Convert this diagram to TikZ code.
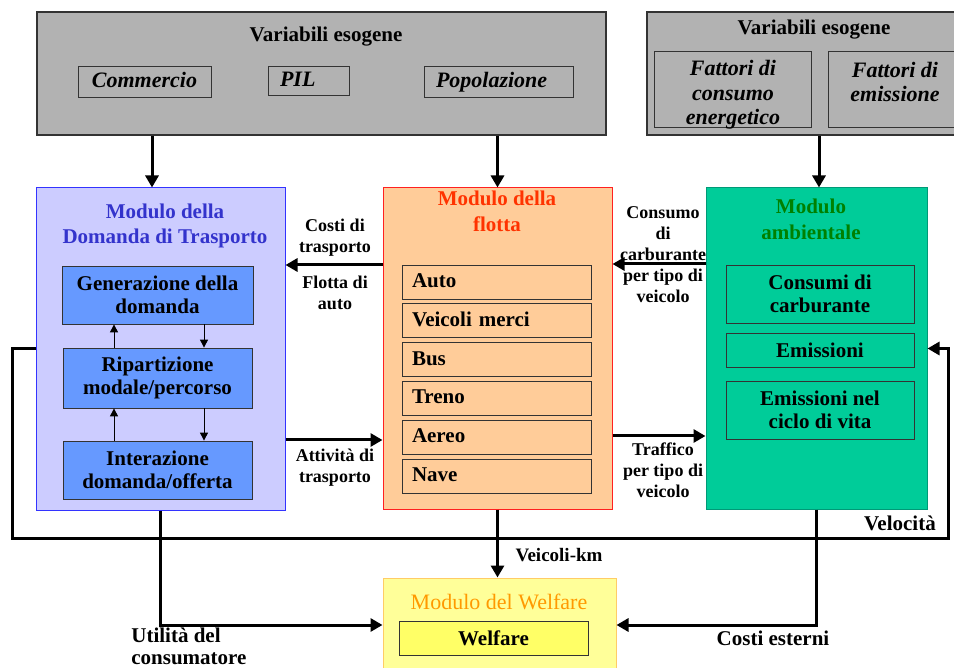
\documentclass[tikz,border=0pt]{standalone}
\usepackage{fontspec}
\setmainfont{Liberation Serif}
\usetikzlibrary{arrows.meta, positioning}
\definecolor{grigio}{HTML}{B2B2B2}
\definecolor{domfill}{HTML}{CCCCFF}
\definecolor{domborder}{HTML}{3333FF}
\definecolor{domsub}{HTML}{6699FF}
\definecolor{domtitle}{HTML}{3333CC}
\definecolor{flofill}{HTML}{FFCC99}
\definecolor{floborder}{HTML}{FF2020}
\definecolor{flotitle}{HTML}{FF3300}
\definecolor{ambfill}{HTML}{00CC99}
\definecolor{ambborder}{HTML}{009977}
\definecolor{ambtitle}{HTML}{008000}
\definecolor{welfill}{HTML}{FFFF99}
\definecolor{welborder}{HTML}{FFCC66}
\definecolor{welsub}{HTML}{FFFF66}
\definecolor{weltitle}{HTML}{FF9900}
\tikzset{
    esobox/.style={rectangle, draw=black!80, fill=grigio, inner sep=0pt, line width=0.6pt},
    modbox/.style={rectangle, draw, inner sep=0pt, line width=0.5pt},
    varbox/.style={rectangle, draw=black!80, fill=grigio, inner sep=0pt, align=center, font=\fontsize{11}{12.25}\selectfont\bfseries\itshape},
    vartext/.style={align=center, inner sep=0pt, font=\fontsize{11}{12.25}\selectfont\bfseries\itshape},
    subbox/.style={rectangle, draw=black!80, inner sep=2pt, align=center, font=\fontsize{10.5}{11.5}\selectfont\bfseries},
    vehbox/.style={rectangle, draw=black!80, fill=flofill, minimum height=17pt, text width=84.5pt, text height=7.5pt, text depth=2pt, inner xsep=5pt, inner ysep=0pt, align=left, font=\fontsize{10.5}{11.5}\selectfont\bfseries},
    modtitle/.style={align=center, inner sep=0pt, font=\fontsize{10.5}{12.75}\selectfont\bfseries},
    lbl/.style={align=center, inner sep=1pt, font=\fontsize{9}{10.5}\selectfont\bfseries},
    lbl_big/.style={align=center, inner sep=1pt, font=\fontsize{10.5}{12.5}\selectfont\bfseries},
    arrow/.style={-{Triangle[length=6pt, width=6.5pt]}, line width=1.5pt},
    thin_arrow/.style={-{Triangle[length=4pt, width=4pt]}, line width=0.5pt}
}
\begin{document}
\begin{tikzpicture}[x=0.5pt, y=-0.5pt]
    \useasboundingbox (0,0) rectangle (954,668);

    % Variabili esogene
    \node (eso1) [esobox, minimum width=284.5pt, minimum height=61.5pt] at (321.5,73.5) {};
    \node (eso1_t) [modtitle] at (326,37) {Variabili esogene};
    \node (comm) [varbox, minimum width=66.5pt, minimum height=15.5pt, text height=7.5pt, text depth=1.5pt] at (144.5,81.5) {Commercio};
    \node (pil) [varbox, text width=28.5pt, align=left, minimum height=14.5pt, text height=7.5pt, text depth=1.5pt, inner xsep=6pt] at (308.5,80.5) {PIL};
    \node (pop) [varbox, text width=62.5pt, align=left, minimum height=15.5pt, text height=7.5pt, text depth=1.5pt, inner xsep=6pt] at (498.5,81.5) {Popolazione};

    \node (eso2) [esobox, minimum width=154.5pt, minimum height=61.5pt] at (801.5,73.5) {};
    \node (eso2_t) [modtitle] at (814,30) {Variabili esogene};
    \node (fce) [varbox, minimum width=78.5pt, minimum height=38pt] at (732.5,89) {};
    \node (fce_t) [vartext] at (733,95) {Fattori di\\consumo\\energetico};
    \node (fem) [varbox, minimum width=67pt, minimum height=38pt] at (895,89) {};
    \node (fem_t) [vartext] at (895,82) {Fattori di\\emissione};

    % Modulo della domanda
    \node (dom) [modbox, draw=domborder, fill=domfill, minimum width=124.5pt, minimum height=161pt] at (160.5,349) {};
    \node (dom_t) [modtitle, text=domtitle] at (165,226) {Modulo della\\Domanda di Trasporto};
    \node (gen) [subbox, fill=domsub, minimum width=95.5pt, minimum height=29pt] at (157.5,295) {Generazione della\\domanda};
    \node (rip) [subbox, fill=domsub, minimum width=94.5pt, minimum height=30pt] at (157.5,378) {Ripartizione\\modale/percorso};
    \node (inter) [subbox, fill=domsub, minimum width=94.5pt, minimum height=29pt] at (157.5,470) {Interazione\\domanda/offerta};
    \draw [thin_arrow] ([xshift=-21.75pt]rip.north) -- ([xshift=-21.75pt]gen.south);
    \draw [thin_arrow] ([xshift=23.25pt]gen.south) -- ([xshift=23.25pt]rip.north);
    \draw [thin_arrow] ([xshift=-21.75pt]inter.north) -- ([xshift=-21.75pt]rip.south);
    \draw [thin_arrow] ([xshift=23.25pt]rip.south) -- ([xshift=23.25pt]inter.north);

    % Modulo della flotta
    \node (flo) [modbox, draw=floborder, fill=flofill, minimum width=114.5pt, minimum height=160.5pt] at (497.5,348.5) {};
    \node (flo_t) [modtitle, text=flotitle] at (497,211.5) {Modulo della\\flotta};
    \node (auto) [vehbox] at (496.5,282) {Auto};
    \node (merci) [vehbox, below=2pt of auto] {Veicoli merci};
    \node (bus) [vehbox, below=2pt of merci] {Bus};
    \node (treno) [vehbox, below=2pt of bus] {Treno};
    \node (aereo) [vehbox, below=2pt of treno] {Aereo};
    \node (nave) [vehbox, below=2pt of aereo] {Nave};

    % Modulo ambientale
    \node (amb) [modbox, draw=ambborder, fill=ambfill, minimum width=110.5pt, minimum height=160.5pt] at (816.5,348.5) {};
    \node (amb_t) [modtitle, text=ambtitle] at (811,219.5) {Modulo\\ambientale};
    \node (cons) [subbox, fill=ambfill, minimum width=94pt, minimum height=29pt] at (820,294) {Consumi di\\carburante};
    \node (emi) [subbox, fill=ambfill, minimum width=94pt, minimum height=17pt, inner ysep=0pt] at (820,350) {Emissioni};
    \node (ciclo) [subbox, fill=ambfill, minimum width=94pt, minimum height=29pt] at (820,410) {Emissioni nel\\ciclo di vita};

    % Modulo del Welfare
    \node (wel) [modbox, draw=welborder, fill=welfill, minimum width=116.5pt, minimum height=47pt] at (499.5,625) {};
    \node (wel_t) [modtitle, font=\fontsize{11}{12}\selectfont, text=weltitle] at (499,602) {Modulo del Welfare};
    \node (welf) [subbox, fill=welsub, minimum width=94.5pt, minimum height=17pt, inner ysep=0pt] at (493.5,638) {Welfare};

    % frecce dall'esterno
    \coordinate (d_in) at (152,0);
    \coordinate (a_in) at (819,0);
    \draw [arrow] (eso1.south -| d_in) -- (dom.north -| d_in);
    \draw [arrow] (eso1.south -| flo.north) -- (flo.north);
    \draw [arrow] (eso2.south -| a_in) -- (amb.north -| a_in);

    % frecce tra i moduli
    \coordinate (y_costi) at (0,265);
    \coordinate (y_att) at (0,440);
    \coordinate (y_cons) at (0,264);
    \coordinate (y_traf) at (0,436);
    \draw [arrow] (flo.west |- y_costi) -- (dom.east |- y_costi);
    \draw [arrow] (dom.east |- y_att) -- (flo.west |- y_att);
    \draw [arrow] (amb.west |- y_cons) -- (flo.east |- y_cons);
    \draw [arrow] (flo.east |- y_traf) -- (amb.west |- y_traf);

    % velocita'
    \coordinate (vel_sw) at (12,538);
    \coordinate (vel_se) at (948,538);
    \draw [arrow] (dom.west) -| (vel_sw) -- (vel_se) |- (amb.east);

    % verso il welfare
    \draw [arrow] (dom.south) |- (wel.west);
    \draw [arrow] (flo.south) -- (flo.south |- wel.north);
    \draw [arrow] (amb.south) |- (wel.east);

    % etichette
    \node (lbl_costi) [lbl] at (335,238) {Costi di\\trasporto};
    \node (lbl_flotta) [lbl] at (335,293) {Flotta di\\auto};
    \node (lbl_att) [lbl] at (335,468) {Attività di\\trasporto};
    \node (lbl_cons) [lbl] at (663,254.5) {Consumo\\di\\carburante\\per tipo di\\veicolo};
    \node (lbl_traf) [lbl] at (663,470) {Traffico\\per tipo di\\veicolo};
    \node (lbl_vel) [lbl_big] at (900,523) {Velocità};
    \node (lbl_vkm) [lbl, font=\fontsize{9.5}{11}\selectfont\bfseries] at (559,555) {Veicoli-km};
    \node (lbl_util) [lbl_big, font=\fontsize{10.5}{11}\selectfont\bfseries, align=left, anchor=west] at (129,646) {Utilità del\\consumatore};
    \node (lbl_est) [lbl_big] at (773,638) {Costi esterni};
\end{tikzpicture}
\end{document}
